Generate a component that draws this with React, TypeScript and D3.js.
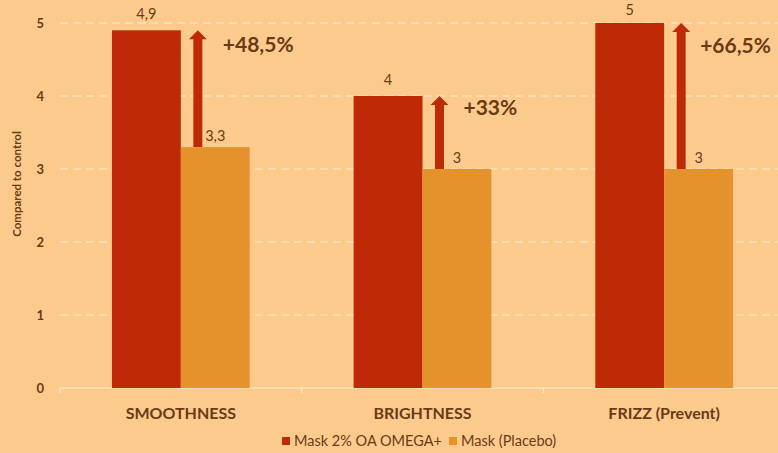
import React from "react";
import * as d3 from "d3";

const categories = ["SMOOTHNESS", "BRIGHTNESS", "FRIZZ (Prevent)"];
const seriesNames = ["Mask 2% OA OMEGA+", "Mask (Placebo)"];
const maskValues = [4.9, 4, 5];
const placeboValues = [3.3, 3, 3];
const maskLabels = ["4,9", "4", "5"];
const placeboLabels = ["3,3", "3", "3"];
const increaseLabels = ["+48,5%", "+33%", "+66,5%"];
const yTicks = [0, 1, 2, 3, 4, 5];

const W = 778;
const H = 453;
const BG = "#FDCA8E";
const RED = "#BE2A06";
const ORANGE = "#E5922D";
const TEXT = "#6A3A14";
const FONT = "Lato, 'Open Sans', sans-serif";

// per-annotation label nudges (layout only)
const labelDx = [25, 24, 19];
const labelDy = [22, 19, 30];

export default function App() {
  const margin = { left: 60, right: -7, top: 23, bottom: 65 };
  const x0 = d3
    .scaleBand<string>()
    .domain(categories)
    .range([margin.left, W - margin.right])
    .paddingInner(0.43)
    .paddingOuter(0.215);
  const outer = d3.scaleBand<string>().domain(categories).range([margin.left, W - margin.right]);
  const x1 = d3.scaleBand<string>().domain(seriesNames).range([0, x0.bandwidth()]);
  const y = d3.scaleLinear().domain([0, 5]).range([H - margin.bottom, margin.top]);

  return (
    <svg
      width={W}
      height={H}
      style={{ position: "absolute", left: 0, top: 0, background: BG, fontFamily: FONT }}
    >
      <rect x={0} y={0} width={W} height={H} fill={BG} />
      {yTicks.map((t) =>
        t === 0 ? null : (
          <line
            key={t}
            x1={margin.left}
            x2={W}
            y1={y(t)}
            y2={y(t)}
            stroke="#ffffff"
            strokeOpacity={0.6}
            strokeWidth={1.2}
            strokeDasharray="8 5"
          />
        )
      )}
      <line x1={margin.left} x2={W} y1={y(0)} y2={y(0)} stroke="#ffffff" strokeOpacity={0.6} strokeWidth={1.2} />
      {categories.map((c, i) =>
        i === 0 ? null : (
          <line
            key={c}
            x1={outer(c)!}
            x2={outer(c)!}
            y1={y(0)}
            y2={y(0) + 5}
            stroke="#ffffff"
            strokeOpacity={0.6}
            strokeWidth={1.2}
          />
        )
      )}
      <line x1={margin.left} x2={margin.left} y1={y(0)} y2={y(0) + 5} stroke="#ffffff" strokeOpacity={0.6} strokeWidth={1.2} />
      {yTicks.map((t) => (
        <text
          key={t}
          x={44}
          y={y(t)}
          dy="0.35em"
          textAnchor="end"
          fontSize={13}
          fontWeight={700}
          fill={TEXT}
        >
          {t}
        </text>
      ))}
      <text
        transform={`translate(21,184) rotate(-90)`}
        textAnchor="middle"
        fontSize={11.5}
        fontWeight={700}
        fill={TEXT}
      >
        Compared to control
      </text>
      {categories.map((c, i) => {
        const gx = x0(c)!;
        const rx = gx + x1(seriesNames[0])!;
        const ox = gx + x1(seriesNames[1])!;
        const bw = x1.bandwidth();
        const ax = ox + 17;
        const tipY = y(maskValues[i]);
        const baseY = y(placeboValues[i]);
        const headH = 9;
        const headW = 9;
        const shaft = 4.5;
        const arrowPath = `M${ax - shaft},${baseY} L${ax - shaft},${tipY + headH} L${ax - headW},${tipY + headH} L${ax},${tipY} L${ax + headW},${tipY + headH} L${ax + shaft},${tipY + headH} L${ax + shaft},${baseY} Z`;
        return (
          <g key={c}>
            <rect x={rx} y={y(maskValues[i])} width={bw} height={y(0) - y(maskValues[i])} fill={RED} />
            <rect x={ox} y={y(placeboValues[i])} width={bw} height={y(0) - y(placeboValues[i])} fill={ORANGE} />
            <text
              x={rx + bw / 2}
              y={Math.max(y(maskValues[i]) - 11, 15)}
              textAnchor="middle"
              fontSize={14.5}
              fill={TEXT}
            >
              {maskLabels[i]}
            </text>
            <text x={ox + bw / 2} y={y(placeboValues[i]) - 6} textAnchor="middle" fontSize={14.5} fill={TEXT}>
              {placeboLabels[i]}
            </text>
            <path d={arrowPath} fill={RED} />
            <text x={ax + labelDx[i]} y={tipY + labelDy[i]} fontSize={21} fontWeight={700} fill={TEXT}>
              {increaseLabels[i]}
            </text>
            <text
              x={outer(c)! + outer.bandwidth() / 2}
              y={413}
              dy="0.35em"
              textAnchor="middle"
              fontSize={16}
              fontWeight={700}
              fill={TEXT}
            >
              {c}
            </text>
          </g>
        );
      })}
      <g>
        <rect x={282} y={437} width={8} height={8} fill={RED} />
        <text x={294} y={441} dy="0.35em" fontSize={14.5} fill={TEXT}>
          {seriesNames[0]}
        </text>
        <rect x={449} y={437} width={8} height={8} fill={ORANGE} />
        <text x={461} y={441} dy="0.35em" fontSize={14.5} fill={TEXT}>
          {seriesNames[1]}
        </text>
      </g>
    </svg>
  );
}
